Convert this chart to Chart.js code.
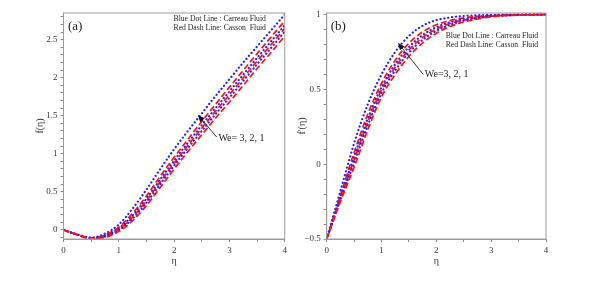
<!DOCTYPE html>
<html>
<head>
<meta charset="utf-8">
<script src="https://cdn.jsdelivr.net/npm/chart.js@4.4.0/dist/chart.umd.min.js"></script>
<style>
body { margin: 0; background: #fff; width: 612px; height: 289px; position: relative; overflow: hidden; }
.box { position: absolute; top: 0; height: 289px; }
#wa { left: 0; width: 290px; }
#wb { left: 290px; width: 322px; }
</style>
</head>
<body>
<div class="box" id="wa"><canvas id="ca"></canvas></div>
<div class="box" id="wb"><canvas id="cb"></canvas></div>
<script>
// eta grid
const eta = [0, 0.25, 0.5, 0.75, 1, 1.25, 1.5, 1.75, 2, 2.25, 2.5, 2.75, 3, 3.25, 3.5, 3.75, 4];

// (a) f(eta)
const fCarreau3 = [0, -0.06, -0.10, -0.05, 0.07, 0.28, 0.53, 0.80, 1.06, 1.30, 1.53, 1.76, 1.98, 2.20, 2.41, 2.62, 2.83];
const fCasson3  = [0, -0.062, -0.105, -0.065, 0.036, 0.218, 0.446, 0.707, 0.954, 1.191, 1.425, 1.652, 1.876, 2.096, 2.316, 2.533, 2.746];
const fCarreau2 = [0, -0.063, -0.108, -0.075, 0.02, 0.19, 0.41, 0.665, 0.91, 1.145, 1.375, 1.60, 1.82, 2.04, 2.26, 2.475, 2.69];
const fCasson2  = [0, -0.063, -0.11, -0.083, 0.008, 0.169, 0.383, 0.634, 0.877, 1.111, 1.338, 1.561, 1.778, 1.998, 2.218, 2.432, 2.648];
const fCarreau1 = [0, -0.064, -0.112, -0.09, -0.004, 0.148, 0.356, 0.602, 0.844, 1.076, 1.30, 1.522, 1.736, 1.956, 2.176, 2.388, 2.606];
const fCasson1  = [0, -0.065, -0.115, -0.10, -0.02, 0.12, 0.32, 0.56, 0.80, 1.03, 1.25, 1.47, 1.68, 1.90, 2.12, 2.33, 2.55];

// (b) f'(eta)
const dfCarreau3 = [-0.5, -0.18, 0.14, 0.40, 0.60, 0.75, 0.857, 0.925, 0.962, 0.98, 0.99, 0.995, 0.998, 0.999, 1.0, 1.0, 1.0];
const dfCasson3  = [-0.5, -0.208, 0.078, 0.335, 0.541, 0.695, 0.808, 0.884, 0.931, 0.959, 0.977, 0.987, 0.993, 0.997, 0.999, 0.999, 1.0];
const dfCarreau2 = [-0.5, -0.22, 0.05, 0.305, 0.515, 0.668, 0.783, 0.863, 0.915, 0.948, 0.969, 0.982, 0.991, 0.995, 0.998, 0.999, 1.0];
const dfCasson2  = [-0.5, -0.229, 0.029, 0.283, 0.496, 0.647, 0.764, 0.847, 0.903, 0.94, 0.963, 0.978, 0.989, 0.994, 0.997, 0.999, 1.0];
const dfCarreau1 = [-0.5, -0.238, 0.008, 0.26, 0.476, 0.627, 0.745, 0.831, 0.891, 0.931, 0.958, 0.975, 0.987, 0.993, 0.997, 0.998, 1.0];
const dfCasson1  = [-0.5, -0.25, -0.02, 0.23, 0.45, 0.60, 0.72, 0.81, 0.875, 0.92, 0.95, 0.97, 0.985, 0.992, 0.996, 0.998, 1.0];

// tick labels
const xLabels = [0, 1, 2, 3, 4];
const yLabelsA = [0, 0.5, 1, 1.5, 2, 2.5];
const yLabelsB = [-0.5, 0, 0.5, 1];

const serif = "'Liberation Serif', 'DejaVu Serif', serif";
const BLUE = '#2020ff';
const RED = '#ff1010';

function pts(ys) { return eta.map((x, i) => ({ x: x, y: ys[i] })); }

function carreau(ys) {
  return { data: pts(ys), borderColor: BLUE, borderWidth: 2.2, borderDash: [0.1, 3.8], borderCapStyle: 'round',
           pointRadius: 0, cubicInterpolationMode: 'monotone', fill: false };
}
function casson(ys) {
  return { data: pts(ys), borderColor: RED, borderWidth: 1.7, borderDash: [6, 3],
           pointRadius: 0, cubicInterpolationMode: 'monotone', fill: false };
}

function near(list, v) { return list.some(t => Math.abs(t - v) < 1e-6); }
function fmt(v) { return v < 0 ? '\u2212' + (-v) : String(v); }

function stepTicks(from, to, step) {
  const out = [];
  const n = Math.round((to - from) / step);
  for (let i = 0; i <= n; i++) out.push({ value: +(from + i * step).toFixed(4) });
  return out;
}

const decor = {
  id: 'decor',
  afterDraw(chart, args, o) {
    const ctx = chart.ctx, a = chart.chartArea, xs = chart.scales.x, ys = chart.scales.y;
    ctx.save();
    ctx.strokeStyle = '#9a9a9a';
    ctx.lineWidth = 1;
    ctx.strokeRect(a.left, a.top, a.right - a.left, a.bottom - a.top);

    ctx.fillStyle = '#222';
    ctx.textBaseline = 'middle';
    ctx.textAlign = 'left';
    ctx.font = '13px ' + serif;
    ctx.fillText(o.panel, a.left + o.panelDx, a.top + 14);

    ctx.font = '7.7px ' + serif;
    ctx.fillText('Blue Dot Line : Carreau Fluid', a.left + o.legDx, a.top + o.legDy);
    ctx.fillText('Red Dash Line: Casson  Fluid', a.left + o.legDx, a.top + o.legDy + 9);

    const x0 = xs.getPixelForValue(o.arrow[0]), y0 = ys.getPixelForValue(o.arrow[1]);
    const x1 = xs.getPixelForValue(o.arrow[2]), y1 = ys.getPixelForValue(o.arrow[3]);
    const ang = Math.atan2(y1 - y0, x1 - x0);
    ctx.strokeStyle = '#333';
    ctx.fillStyle = '#111';
    ctx.beginPath();
    ctx.moveTo(x0, y0);
    ctx.lineTo(x1 - 5 * Math.cos(ang), y1 - 5 * Math.sin(ang));
    ctx.stroke();
    ctx.beginPath();
    ctx.moveTo(x1, y1);
    ctx.lineTo(x1 - 7 * Math.cos(ang) + 3 * Math.sin(ang), y1 - 7 * Math.sin(ang) - 3 * Math.cos(ang));
    ctx.lineTo(x1 - 7 * Math.cos(ang) - 3 * Math.sin(ang), y1 - 7 * Math.sin(ang) + 3 * Math.cos(ang));
    ctx.closePath();
    ctx.fill();

    ctx.fillStyle = '#222';
    ctx.font = '10px ' + serif;
    ctx.fillText(o.weText, xs.getPixelForValue(o.textAt[0]), ys.getPixelForValue(o.textAt[1]));
    ctx.restore();
  }
};

function makeChart(id, sets, cfg) {
  return new Chart(document.getElementById(id), {
    type: 'line',
    data: { datasets: [
      casson(sets[5]), carreau(sets[4]), casson(sets[3]), carreau(sets[2]), casson(sets[1]), carreau(sets[0])
    ] },
    options: {
      responsive: true, maintainAspectRatio: false, animation: false, devicePixelRatio: 1,
      layout: { padding: cfg.padding },
      plugins: { legend: { display: false }, tooltip: { enabled: false }, decor: cfg.decor },
      scales: {
        x: {
          type: 'linear', min: 0, max: 4,
          afterBuildTicks: s => { s.ticks = stepTicks(0, 4, 0.5); },
          afterFit: s => { s.height = 28; },
          grid: { drawOnChartArea: false, tickLength: 3, color: '#888' },
          border: { color: '#9a9a9a' },
          ticks: { autoSkip: false, maxRotation: 0, padding: 3, color: '#333',
                   font: { family: serif, size: 9 },
                   callback: v => near(xLabels, v) ? fmt(v) : '' },
          title: { display: true, text: '\u03b7', color: '#333', padding: 0, font: { family: serif, size: 10 } }
        },
        y: {
          type: 'linear', min: cfg.ymin, max: cfg.ymax,
          afterBuildTicks: s => { s.ticks = stepTicks(cfg.tick0, cfg.tick1, 0.1); },
          afterFit: s => { s.width = cfg.yWidth; },
          grid: { drawOnChartArea: false, tickLength: 3, color: '#888' },
          border: { color: '#9a9a9a' },
          ticks: { autoSkip: false, padding: 3, color: '#333',
                   font: { family: serif, size: 9 },
                   callback: v => near(cfg.yLabels, v) ? fmt(v) : '' },
          title: { display: true, text: cfg.ytitle, color: '#333', padding: 0, font: { family: serif, size: 10 } }
        }
      }
    },
    plugins: [decor]
  });
}

makeChart('ca', [fCarreau3, fCasson3, fCarreau2, fCasson2, fCarreau1, fCasson1], {
  padding: { left: 34, right: 3, top: 13, bottom: 22 },
  yWidth: 29.5, ymin: -0.12, ymax: 2.85, tick0: -0.1, tick1: 2.8, yLabels: yLabelsA, ytitle: 'f(\u03b7)',
  decor: { panel: '(a)', panelDx: 4.5, legDx: 110, legDy: 6,
           arrow: [2.77, 1.22, 2.43, 1.51], textAt: [2.8, 1.2], weText: 'We= 3, 2, 1' }
});

makeChart('cb', [dfCarreau3, dfCasson3, dfCarreau2, dfCasson2, dfCarreau1, dfCasson1], {
  padding: { left: 6, right: 66, top: 13, bottom: 22 },
  yWidth: 30.7, ymin: -0.5, ymax: 1.01, tick0: -0.5, tick1: 1.0, yLabels: yLabelsB, ytitle: "f'(\u03b7)",
  decor: { panel: '(b)', panelDx: 4, legDx: 119, legDy: 23,
           arrow: [1.76, 0.60, 1.30, 0.81], textAt: [1.79, 0.6], weText: 'We=3, 2, 1' }
});
</script>
</body>
</html>
